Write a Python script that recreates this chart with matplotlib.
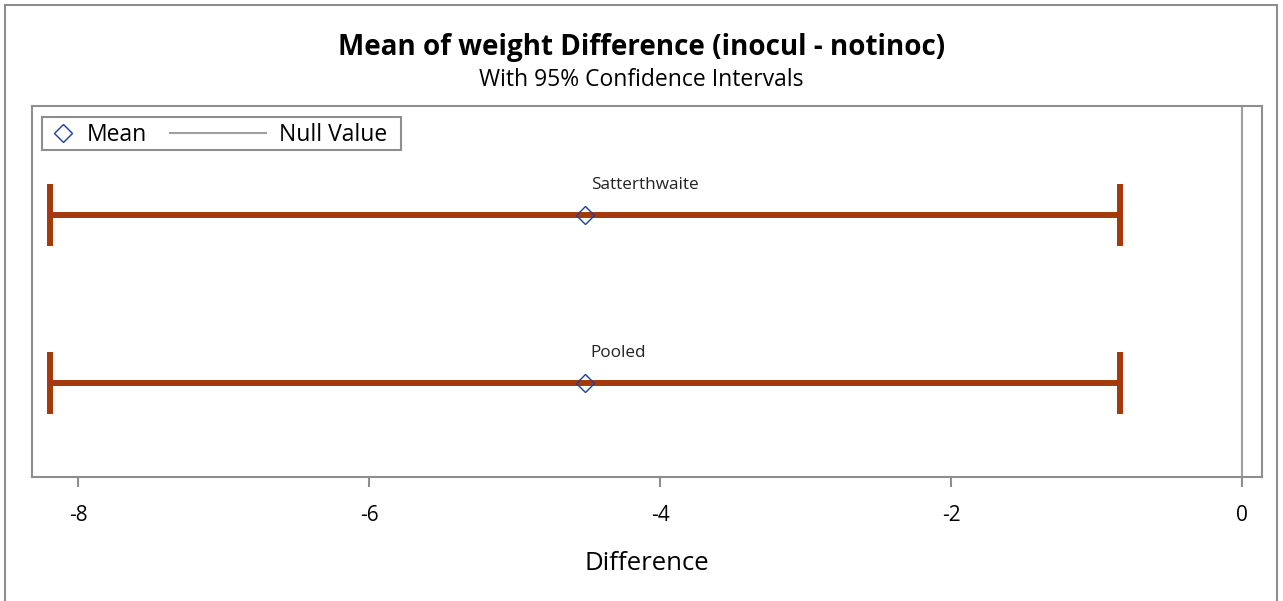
import matplotlib
matplotlib.use("Agg")
import matplotlib.pyplot as plt
from matplotlib.lines import Line2D
from matplotlib.patches import Rectangle

# Confidence intervals for the difference in means (inocul - notinoc)
methods = ["Pooled", "Satterthwaite"]
means = [-4.515, -4.515]
lower = [-8.19, -8.19]
upper = [-0.839, -0.839]
null_value = 0
xticks = [-8, -6, -4, -2, 0]

plt.rcParams["font.family"] = ["Open Sans", "DejaVu Sans"]

ci_color = "#A43A0C"
mean_color = "#1F3FA0"
grey = "#8E8E8E"
null_grey = "#A0A0A0"

W, H = 1283, 601
fig = plt.figure(figsize=(W / 100, H / 100), dpi=100)
fig.patch.set_facecolor("white")
fig.patches.append(Rectangle((5 / W, -0.01), 1272 / W, 1.0 - 5 / H + 0.01,
                             transform=fig.transFigure, fill=False,
                             edgecolor=grey, linewidth=1.5))

ax_l, ax_r, ax_t, ax_b = 32, 1262, 106, 477
ax = fig.add_axes([ax_l / W, 1 - ax_b / H, (ax_r - ax_l) / W, (ax_b - ax_t) / H])
aw, ah = ax_r - ax_l, ax_b - ax_t

ypos = list(range(len(methods)))
err_lo = [m - lo for m, lo in zip(means, lower)]
err_hi = [hi - m for m, hi in zip(means, upper)]

ax.axvline(null_value, color=null_grey, linewidth=1.5, zorder=1)
ax.errorbar(means, ypos, xerr=[err_lo, err_hi], fmt="none", ecolor=ci_color,
            elinewidth=4.3, capsize=22, capthick=4.3, zorder=2)
ax.plot(means, ypos, linestyle="none", marker="D", markersize=9,
        markerfacecolor="none", markeredgecolor=mean_color, markeredgewidth=1.0, zorder=3)

for m, y, name in zip(means, ypos, methods):
    ax.annotate(name, (m, y), xytext=(4, 16), textcoords="offset points",
                ha="left", va="bottom", fontsize=12.3, color="#222222")

ax.set_xlim(-8.316, 0.137)
ax.set_ylim(-0.56, 1.649)
ax.set_xticks(xticks)
ax.set_xticklabels([str(t) for t in xticks], fontsize=15)
ax.set_yticks([])
ax.tick_params(axis="x", direction="out", length=7, width=1.5, color=grey, pad=13)
for s in ax.spines.values():
    s.set_color(grey)
    s.set_linewidth(1.5)
ax.set_xlabel("Difference", fontsize=18.5, labelpad=18)

# Legend box, laid out in axes pixel offsets
def axx(px):
    return (px - ax_l) / aw

def axy(py):
    return 1 - (py - ax_t) / ah

ax.add_patch(Rectangle((axx(42), axy(150)), axx(401) - axx(42), axy(117) - axy(150),
                       transform=ax.transAxes, fill=True, facecolor="white",
                       edgecolor=grey, linewidth=1.5, zorder=5, clip_on=False))
ax.plot([axx(63)], [axy(133)], transform=ax.transAxes, linestyle="none", marker="D",
        markersize=9, markerfacecolor="none", markeredgecolor=mean_color,
        markeredgewidth=1.0, zorder=6, clip_on=False)
ax.text(axx(87), axy(135), "Mean", transform=ax.transAxes, ha="left", va="center",
        fontsize=16.5, zorder=6)
ax.add_line(Line2D([axx(170), axx(266)], [axy(133), axy(133)], transform=ax.transAxes,
                   color=null_grey, linewidth=1.5, zorder=6, clip_on=False))
ax.text(axx(279), axy(135), "Null Value", transform=ax.transAxes, ha="left", va="center",
        fontsize=16.5, zorder=6)

fig.text(0.5, 1 - 47 / H, "Mean of weight Difference (inocul - notinoc)",
         ha="center", va="center", fontsize=20, fontweight="bold")
fig.text(0.5, 1 - 80 / H, "With 95% Confidence Intervals",
         ha="center", va="center", fontsize=16.5)

fig.savefig("out.png", dpi=100)
